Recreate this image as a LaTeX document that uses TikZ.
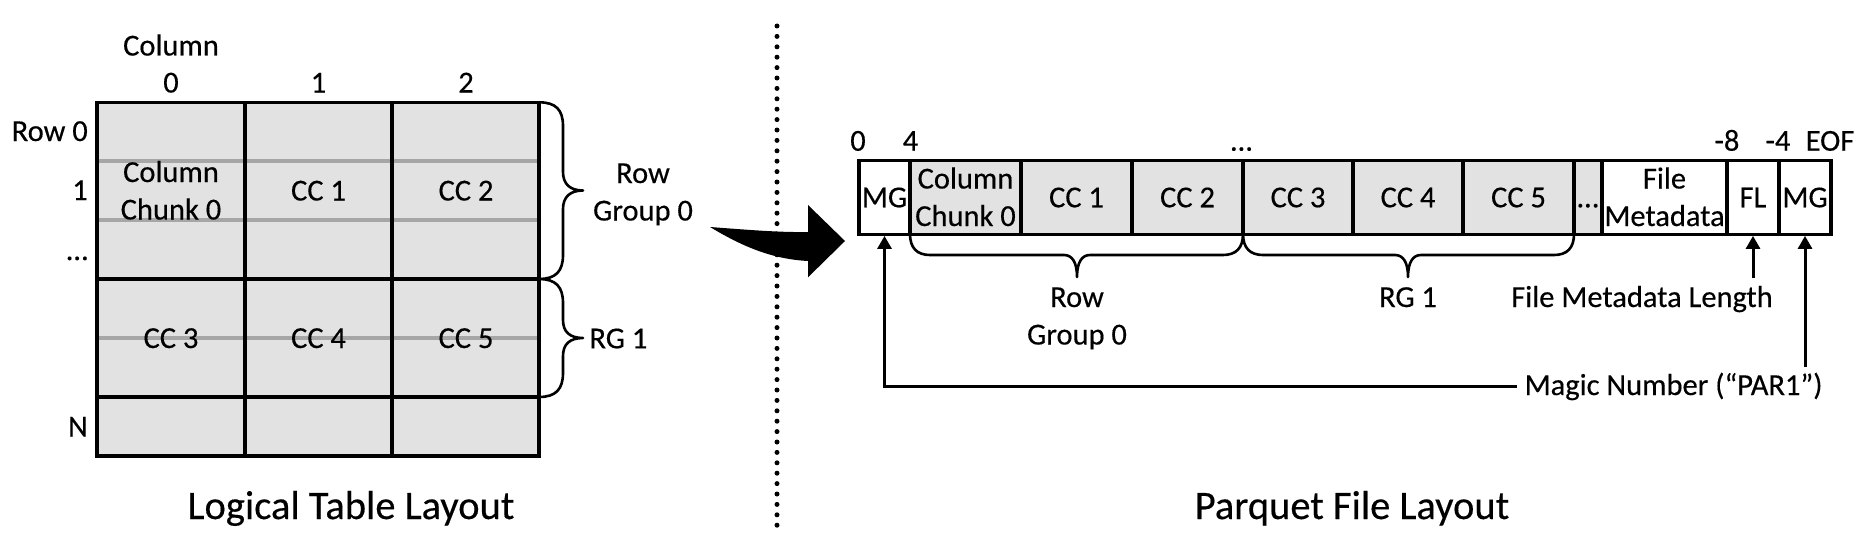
\documentclass[tikz,border=0pt]{standalone}
\usepackage{fontspec}
\setmainfont{Carlito}[FakeBold=0.35]
\usetikzlibrary{arrows.meta}
\definecolor{cellgray}{HTML}{E2E2E2}
\definecolor{linegray}{HTML}{A6A6A6}
\newcommand{\twol}[2]{\begin{tabular}[t]{@{}c@{}}#1\\#2\end{tabular}}
\begin{document}
\begin{tikzpicture}[x=1pt,y=-1pt,
  lbl/.style={font=\fontsize{30.5}{37.5}\selectfont, inner sep=0pt, anchor=base},
  ttl/.style={font=\fontsize{40.5}{48}\selectfont, inner sep=0pt, anchor=base},
  cell/.style={draw, line width=3.2pt, inner sep=0pt, minimum height=73.6pt,
    font=\fontsize{30.5}{37.5}\selectfont, text height=19.6pt, text depth=0pt},
  gcell/.style={cell, fill=cellgray},
  wcell/.style={cell, fill=white},
  twoline/.style={text height=10pt, text depth=28pt},
  arr/.style={line width=3pt, -{Triangle[width=14pt,length=13pt]}},
  brc/.style={line width=2.6pt, line join=round, line cap=round}
]
\useasboundingbox (0,0) rectangle (1865,543);

% ---------- logical table ----------
\fill[cellgray] (97,102.3) rectangle (539,456);
\foreach \yy in {161,220,338} \draw[linegray, line width=3.1pt] (97,\yy) -- (539,\yy);
\draw[line width=3.3pt] (245,102.3) -- (245,456) (392,102.3) -- (392,456);
\draw[line width=3.9pt] (97,279) -- (539,279) (97,397) -- (539,397);
\draw[line width=3.3pt] (97,102.3) rectangle (539,456);

\node[lbl] (t0) at (171,182) {\twol{Column}{Chunk 0}};
\node[lbl] (t1) at (318.5,200.5) {CC 1};
\node[lbl] (t2) at (466,200.5) {CC 2};
\node[lbl] (t3) at (171,348) {CC 3};
\node[lbl] (t4) at (318.5,348) {CC 4};
\node[lbl] (t5) at (466,348) {CC 5};

\node[lbl] (colh) at (171,55.5) {Column};
\node[lbl] (c0) at (171,92.5) {0};
\node[lbl] (c1) at (318.5,92.5) {1};
\node[lbl] (c2) at (466,92.5) {2};

\node[lbl, anchor=base east] (r0) at (88,141) {Row 0};
\node[lbl, anchor=base east] (r1) at (88,200) {1};
\node[lbl, anchor=base east] (rd) at (88,260) {…};
\node[lbl, anchor=base east] (rn) at (88,436.5) {N};

% braces right of table
\draw[brc] (539,102.3) .. controls (556,102.3) and (563,110) .. (563,126) -- (563,172)
  .. controls (563,184) and (570,190.5) .. (583,190.5)
  .. controls (570,190.5) and (563,197) .. (563,209) -- (563,255)
  .. controls (563,271) and (556,279) .. (539,279);
\draw[brc] (539,279) .. controls (556,279) and (563,287) .. (563,303) -- (563,320)
  .. controls (563,332) and (570,338) .. (583,338)
  .. controls (570,338) and (563,344) .. (563,356) -- (563,373)
  .. controls (563,389) and (556,397) .. (539,397);
\node[lbl] (rg0l) at (643,183) {\twol{Row}{Group 0}};
\node[lbl, anchor=base west] (rg1l) at (589.3,348.3) {RG 1};

\node[ttl] (ltl) at (351,519) {Logical Table Layout};

% ---------- separator and arrow ----------
\draw[line width=5pt, line cap=round, dash pattern=on 0pt off 10.4pt] (777,26) -- (777,525.5);
\fill (710,227) .. controls (750,230) and (780,232.5) .. (808,232) -- (808,205) -- (845,241)
  -- (808,277.3) -- (808,261) .. controls (770,259) and (740,245) .. (710,227) -- cycle;

% ---------- parquet file ----------
\node[wcell, minimum width=51pt] (mg1) at (884.5,197.5) {MG};
\node[gcell, minimum width=111pt, twoline] (cc0) at (965.5,197.5) {\twol{Column}{Chunk 0}};
\node[gcell, minimum width=111pt] (cc1) at (1076.5,197.5) {CC 1};
\node[gcell, minimum width=111pt] (cc2) at (1187.5,197.5) {CC 2};
\node[gcell, minimum width=110pt] (cc3) at (1298,197.5) {CC 3};
\node[gcell, minimum width=110pt] (cc4) at (1408,197.5) {CC 4};
\node[gcell, minimum width=111pt] (cc5) at (1518.5,197.5) {CC 5};
\node[gcell, minimum width=28pt] (cdots) at (1588,197.5) {…};
\node[wcell, minimum width=125pt, twoline] (fm) at (1664.5,197.5) {\twol{File}{Metadata}};
\node[wcell, minimum width=52pt] (fl) at (1753,197.5) {FL};
\node[wcell, minimum width=52pt] (mg2) at (1805,197.5) {MG};

\node[lbl] (n0) at (858,150.7) {0};
\node[lbl] (n4) at (910.5,150.7) {4};
\node[lbl] (nd) at (1241.5,150.7) {…};
\node[lbl] (n8) at (1727,150.7) {-8};
\node[lbl] (nm4) at (1778,150.7) {-4};
\node[lbl] (neof) at (1830,150.7) {EOF};

% braces below bar
\draw[brc] (910,234) .. controls (910,248) and (917,255) .. (930,255) -- (1064,255)
  .. controls (1072,255) and (1077,262) .. (1077,277)
  .. controls (1077,262) and (1082,255) .. (1090,255) -- (1223,255)
  .. controls (1236,255) and (1243,248) .. (1243,234);
\draw[brc] (1243,234) .. controls (1243,248) and (1250,255) .. (1263,255) -- (1395,255)
  .. controls (1403,255) and (1408,262) .. (1408,277)
  .. controls (1408,262) and (1413,255) .. (1421,255) -- (1554,255)
  .. controls (1567,255) and (1574,248) .. (1574,234);

\node[lbl] (rg0b) at (1077,307) {\twol{Row}{Group 0}};
\node[lbl] (rg1b) at (1408,307) {RG 1};
\node[lbl] (fml) at (1642,307) {File Metadata Length};
\node[lbl, anchor=base west] (mag) at (1524.4,395) {Magic Number (“PAR1”)};

\coordinate (flt) at (1753,278);
\coordinate (mgt) at (1805,367);
\draw[arr] (flt) -- (fl.south);
\draw[arr] (mgt) -- (mg2.south);
\draw[arr] ([xshift=-7pt]mag.west) -| (mg1.south);

\node[ttl] (ptl) at (1352,519) {Parquet File Layout};
\end{tikzpicture}
\end{document}
